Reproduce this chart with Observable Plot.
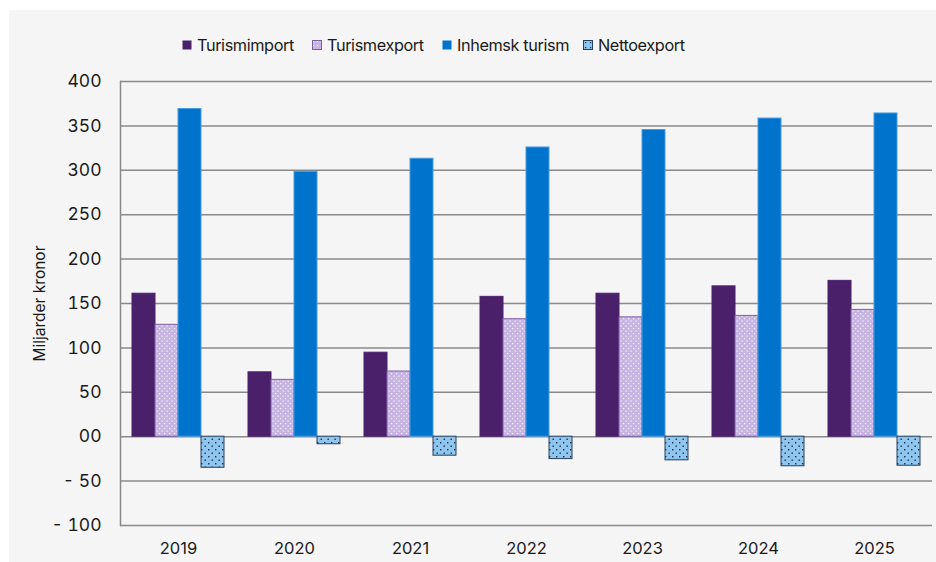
<!DOCTYPE html>
<html>
<head>
<meta charset="utf-8">
<script src="https://cdn.jsdelivr.net/npm/d3@7"></script>
<script src="https://cdn.jsdelivr.net/npm/@observablehq/plot@0.6"></script>
<style>
  html, body { margin: 0; padding: 0; background: #ffffff; }
  #wrap {
    position: absolute; left: 9px; top: 10px; width: 927px; height: 552px;
    background: #f5f5f5; font-family: Inter, "Open Sans", sans-serif; color: #1a1a1a;
  }
  #legend { position: relative; height: 60px; font-size: 16.3px; letter-spacing: -0.4px; }
  .item { position: absolute; top: 25px; height: 20px; display: flex; align-items: center; white-space: nowrap; }
  .item svg { margin-right: 5px; }
  #chart svg { display: block; }
</style>
</head>
<body>
<div id="wrap">
  <div id="legend"></div>
  <div id="chart"></div>
</div>
<script>
const years = ["2019", "2020", "2021", "2022", "2023", "2024", "2025"];
const seriesNames = ["Turismimport", "Turismexport", "Inhemsk turism", "Nettoexport"];
const turismimport = [161, 72.5, 94.6, 157.5, 161, 169.3, 175.5];
const turismexport = [126, 64, 73.4, 132.3, 134.4, 136, 142.8];
const inhemskTurism = [369, 298.3, 313, 325.7, 345.4, 358.3, 364];
const nettoexport = [-35, -8.5, -21.4, -25.2, -26.6, -33.3, -32.7];
const yTicks = [-100, -50, 0, 50, 100, 150, 200, 250, 300, 350, 400];

const valuesBySeries = [turismimport, turismexport, inhemskTurism, nettoexport];
const rows = [];
years.forEach((y, i) => seriesNames.forEach((s, j) => rows.push({year: y, series: s, value: valuesBySeries[j][i]})));

const styles = {
  "Turismimport": {fill: "#4b206b", stroke: "#4b206b"},
  "Turismexport": {fill: "url(#dotsLav)", stroke: "#7d5fa6"},
  "Inhemsk turism": {fill: "#0074cc", stroke: "#4a9be0"},
  "Nettoexport": {fill: "url(#dotsBlue)", stroke: "#24405e"}
};

const barMarks = seriesNames.map(s => Plot.barY(rows.filter(d => d.series === s), {
  fx: "year", x: "series", y: "value",
  fill: styles[s].fill, stroke: styles[s].stroke, strokeWidth: 1,
  insetLeft: 0, insetRight: 0
}));

const chart = Plot.plot({
  width: 927,
  height: 490,
  marginLeft: 109,
  marginRight: 3,
  marginTop: 11,
  marginBottom: 35,
  style: {background: "transparent", fontFamily: "Inter, 'Open Sans', sans-serif", fontSize: "17px", color: "#1a1a1a"},
  fx: {domain: years, padding: 0, label: null, tickSize: 0},
  x: {domain: seriesNames, paddingInner: 0, paddingOuter: 0.5, axis: null},
  y: {domain: [-100, 400], ticks: yTicks, label: null},
  marks: [
    Plot.gridY(yTicks, {stroke: "#8a8a8a", strokeOpacity: 1, strokeWidth: 1.5}),
    ...barMarks,
    Plot.axisY(yTicks, {
      tickSize: 0, tickPadding: 19, fontSize: 17.5,
      tickFormat: d => d === 0 ? "00" : d < 0 ? "- " + (-d) : String(d),
      label: null
    }),
    Plot.text(["Miljarder kronor"], {
      frameAnchor: "left", textAnchor: "middle", rotate: -90, dx: -80, fontSize: 15.5,
      facetAnchor: "left", fill: "#1a1a1a"
    }),
    Plot.axisFx({tickSize: 0, tickPadding: 17, fontSize: 16.5, label: null, anchor: "bottom"}),
    Plot.frame({anchor: "left", facetAnchor: "left", stroke: "#8a8a8a", strokeWidth: 1.5})
  ]
});

// patterns
const ns = "http://www.w3.org/2000/svg";
const defs = document.createElementNS(ns, "defs");
defs.innerHTML = `
  <pattern id="dotsLav" width="5" height="5" patternUnits="userSpaceOnUse">
    <rect width="5" height="5" fill="#c7b4e2"/>
    <rect x="0.5" y="0.5" width="1.2" height="1.2" fill="#ffffff" opacity="0.85"/>
    <rect x="3" y="3" width="1.2" height="1.2" fill="#ffffff" opacity="0.85"/>
  </pattern>
  <pattern id="dotsBlue" width="7" height="7" patternUnits="userSpaceOnUse">
    <rect width="7" height="7" fill="#8fc6ef"/>
    <rect x="1" y="1" width="1.4" height="1.4" fill="#1a2a44"/>
    <rect x="4.5" y="4.5" width="1.4" height="1.4" fill="#1a2a44"/>
  </pattern>`;
chart.insertBefore(defs, chart.firstChild);
document.getElementById("chart").appendChild(chart);

// legend
const legendX = [173, 303, 433, 574];
const legend = document.getElementById("legend");
legend.innerHTML = seriesNames.map((s, j) => {
  const st = styles[s];
  const f = j === 1 ? "url(#dotsLavL)" : j === 3 ? "url(#dotsBlueL)" : st.fill;
  return `<div class="item" style="left:${legendX[j]}px"><svg width="10" height="10"><rect x="0.5" y="0.5" width="9" height="9" fill="${f}" stroke="${j % 2 ? st.stroke : 'none'}"/></svg><span>${s}</span></div>`;
}).join("");
const defSvg = document.createElementNS(ns, "svg");
defSvg.setAttribute("width", 0); defSvg.setAttribute("height", 0);
defSvg.style.position = "absolute";
defSvg.innerHTML = `<defs>
  <pattern id="dotsLavL" width="4" height="4" patternUnits="userSpaceOnUse">
    <rect width="4" height="4" fill="#c7b4e2"/><rect x="1" y="1" width="1.2" height="1.2" fill="#fff"/></pattern>
  <pattern id="dotsBlueL" width="5" height="5" patternUnits="userSpaceOnUse">
    <rect width="5" height="5" fill="#8fc6ef"/><rect x="2" y="2" width="1.2" height="1.2" fill="#1a2a44"/></pattern>
</defs>`;
document.body.appendChild(defSvg);
</script>
</body>
</html>
